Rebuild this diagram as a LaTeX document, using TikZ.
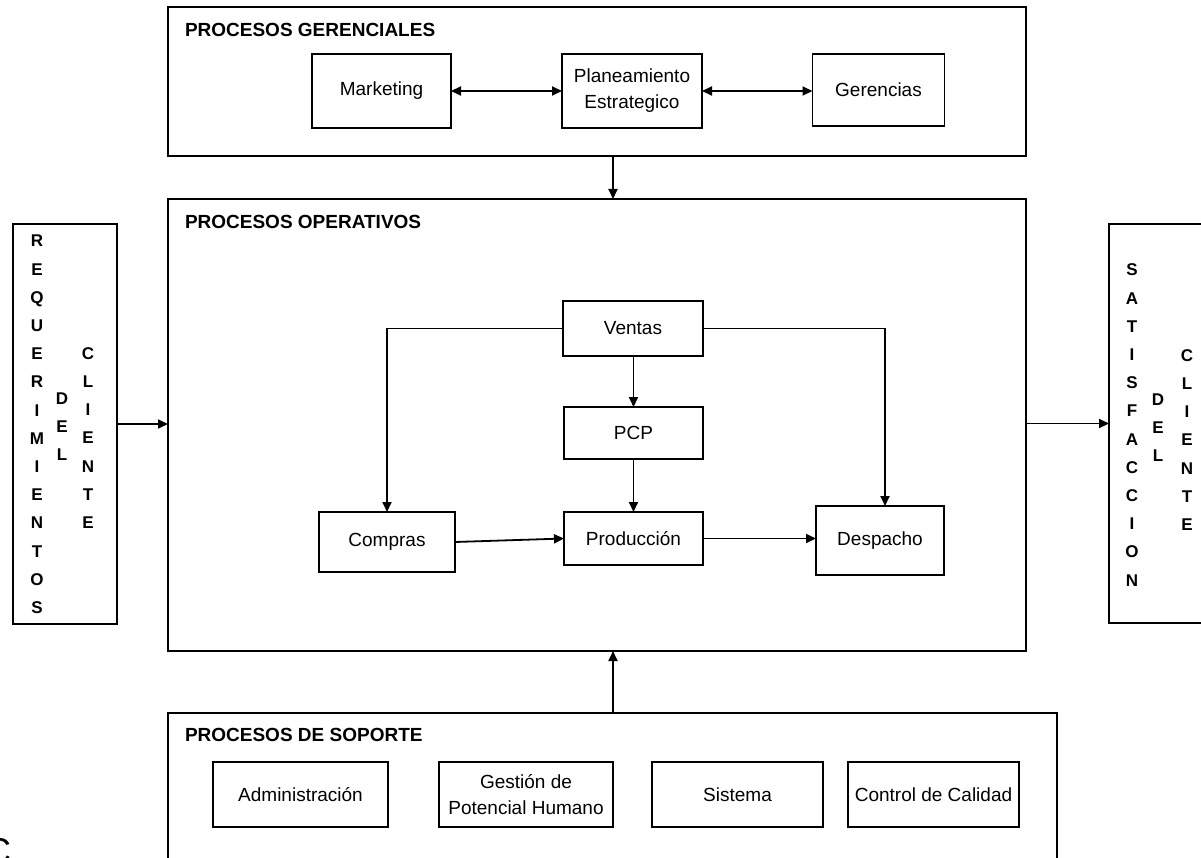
\documentclass[tikz,border=0pt]{standalone}
\usepackage{fontspec}
\setmainfont{Liberation Sans}
\usetikzlibrary{arrows.meta}
\begin{document}
\begin{tikzpicture}[x=1pt,y=-1pt,
  every node/.style={inner sep=0pt, outer sep=0pt},
  sz/.style 2 args={minimum width=#1pt, minimum height=#2pt},
  frame/.style={draw, line width=1.6pt},
  box/.style={frame, align=center, font=\fontsize{19}{26}\selectfont},
  ttl/.style={anchor=west, font=\bfseries\fontsize{19}{23}\selectfont},
  vert/.style={align=center, font=\bfseries\fontsize{17}{28.2}\selectfont},
  tip/.tip={Triangle[length=10pt,width=9pt]},
  arr/.style={line width=1.8pt, -tip},
  darr/.style={line width=1.8pt, tip-tip},
]
\useasboundingbox (0,0) rectangle (1201,858);
\clip (0,0) rectangle (1201,858);

% vertical axis shared by the two arrows into the operational block
\coordinate (axis) at (613,0);

% ---------- management processes ----------
\node[frame, sz={858}{149}] (gerbox) at (597,81.5) {};
\node[ttl] (gertitle) at (185,30) {PROCESOS GERENCIALES};
\node[box, sz={139}{74}] (mkt) at (381.5,91) {Marketing};
\node[box, sz={140}{74}] (plan) at (632,91) {Planeamiento\\Estrategico};
\node[box, sz={132}{72}] (ger) at (878.5,90) {Gerencias};
\draw[darr] (mkt.east) -- (plan.west |- mkt.east);
\draw[darr] (plan.east) -- (ger.west |- plan.east);

% ---------- operational processes ----------
\node[frame, sz={858}{452}] (opbox) at (597,425) {};
\node[ttl] (optitle) at (185,222) {PROCESOS OPERATIVOS};
\node[box, sz={140}{55}] (ven) at (633,328.5) {Ventas};
\node[box, sz={139}{52}] (pcp) at (633.5,433) {PCP};
\node[box, sz={139}{53}] (prod) at (633.5,538.5) {Producción};
\node[box, sz={128}{69}] (desp) at (880,540.5) {Despacho};
\node[box, sz={136}{60}] (comp) at (387,542) {Compras};
\draw[arr] (ven.south -| pcp.north) -- (pcp.north);
\draw[arr] (pcp.south) -- (prod.north);
\draw[arr] (prod.east) -- (desp.west |- prod.east);
\draw[arr] (comp.east) -- (prod.west);
\draw[arr] (ven.west) -| (comp.north);
\draw[arr] (ven.east) -| ([xshift=5pt]desp.north);

% ---------- support processes ----------
\node[frame, sz={889}{207}] (supbox) at (612.5,816.5) {};
\node[ttl] (suptitle) at (185,735) {PROCESOS DE SOPORTE};
\node[box, sz={175}{65}] (adm) at (300.5,794.5) {Administración};
\node[box, sz={174}{65}] (gph) at (526,794.5) {Gestión de\\Potencial Humano};
\node[box, sz={171}{65}] (sis) at (737.5,794.5) {Sistema};
\node[box, sz={171}{65}] (cal) at (933.5,794.5) {Control de Calidad};

\draw[arr] (gerbox.south -| axis) -- (opbox.north -| axis);
\draw[arr] (supbox.north -| axis) -- (opbox.south -| axis);

% ---------- customer requirements (input) ----------
\node[frame, sz={104}{400}] (reqbox) at (65,424) {};
\node[vert] (req1) at (37,424.5) {R\\E\\Q\\U\\E\\R\\I\\M\\I\\E\\N\\T\\O\\S};
\node[vert] (req2) at (62,426.5) {D\\E\\L};
\node[vert] (req3) at (88,438) {C\\L\\I\\E\\N\\T\\E};
\draw[arr] (reqbox.east) -- (opbox.west |- reqbox.east);

% ---------- customer satisfaction (output) ----------
\node[frame, sz={151}{399}] (satbox) at (1184.5,423.5) {};
\node[vert] (sat1) at (1132,425) {S\\A\\T\\I\\S\\F\\A\\C\\C\\I\\O\\N};
\node[vert] (sat2) at (1158,427.5) {D\\E\\L};
\node[vert] (sat3) at (1187,440) {C\\L\\I\\E\\N\\T\\E};
\draw[arr] (opbox.east |- satbox.west) -- (satbox.west);

% fragment of a large letter at the lower left edge
\node[anchor=north east, font=\fontsize{36}{36}\selectfont] (cfrag) at (11,838) {C};
\end{tikzpicture}
\end{document}
